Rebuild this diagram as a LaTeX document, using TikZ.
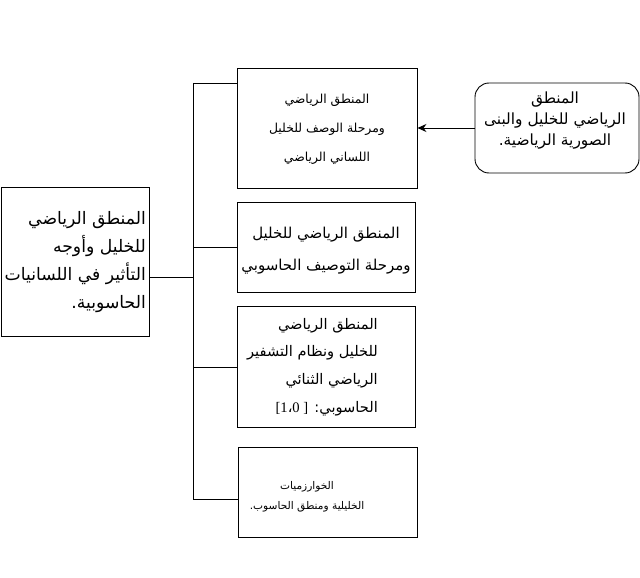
\documentclass[tikz,border=0pt]{standalone}
\usepackage{fontspec}
\newfontfamily\arabicfont[Script=Arabic]{DejaVu Sans}
\newfontfamily\latinserif{Liberation Serif}
\TeXXeTstate=1
\usetikzlibrary{arrows.meta}
\tikzset{
  boxed/.style={draw=black, line width=0.9pt, inner sep=0pt},
  conn/.style={draw=black, line width=0.9pt},
  txt/.style={inner sep=0pt, text=black},
}
\begin{document}
\begin{tikzpicture}[x=1pt,y=-1pt]
\useasboundingbox (0,0) rectangle (640,578);
% boxes
\node[boxed, minimum width=148pt, minimum height=149pt] (L) at (75,261.5) {};
\node[boxed, minimum width=180pt, minimum height=120pt] (A) at (327,128) {};
\node[boxed, minimum width=178pt, minimum height=90pt] (B) at (326,247) {};
\node[boxed, minimum width=178pt, minimum height=121pt] (C) at (326,366.5) {};
\node[boxed, minimum width=179pt, minimum height=90pt] (D) at (327.5,492) {};
\node[boxed, rounded corners=14pt, minimum width=164pt, minimum height=90pt] (R) at (557,128) {};
% texts
\node[txt, align=right, anchor=east, font={\arabicfont\fontsize{17.2}{28}\selectfont}] (Lt) at (146,262.5)
 {\beginR المنطق الرياضي\endR\\\beginR للخليل وأوجه\endR\\\beginR التأثير في اللسانيات\endR\\\beginR الحاسوبية.\endR};
\node[txt, align=center, font={\arabicfont\fontsize{12.4}{29}\selectfont}] (At) at (327,129)
 {\beginR المنطق الرياضي\endR\\\beginR ومرحلة الوصف للخليل\endR\\\beginR اللساني الرياضي\endR};
\node[txt, align=center, font={\arabicfont\fontsize{15}{32}\selectfont}] (Bt) at (326,251)
 {\beginR المنطق الرياضي للخليل\endR\\\beginR ومرحلة التوصيف الحاسوبي\endR};
\node[txt, align=right, anchor=east, font={\arabicfont\fontsize{14.6}{27.7}\selectfont}] (Ct) at (378,367)
 {\beginR المنطق الرياضي\endR\\\beginR للخليل ونظام التشفير\endR\\\beginR الرياضي الثنائي\endR\\\beginR الحاسوبي: \beginL{\latinserif[1}،{\latinserif0 ]}\endL\endR};
\node[txt, align=center, font={\arabicfont\fontsize{10.6}{20}\selectfont}] (Dt) at (307,497)
 {\beginR الخوارزميات\endR\\\beginR الخليلية ومنطق الحاسوب.\endR};
\node[txt, align=center, font={\arabicfont\fontsize{15.4}{21}\selectfont}] (Rt) at (555,121)
 {\beginR المنطق\endR\\\beginR الرياضي للخليل والبنى\endR\\\beginR الصورية الرياضية.\endR};
% connectors
\coordinate (t0) at (193,83);
\coordinate (tL) at (193,277);
\coordinate (tB) at (193,247);
\coordinate (tC) at (193,367);
\coordinate (tD) at (193,499);
\draw[conn] (t0) -- (tD);
\draw[conn] (L.east |- tL) -- (tL);
\draw[conn] (t0) -- (A.west |- t0);
\draw[conn] (tB) -- (B.west |- tB);
\draw[conn] (tC) -- (C.west |- tC);
\draw[conn] (tD) -- (D.west |- tD);
\draw[conn, -{Stealth[length=9pt,width=8pt]}] (R.west) -- (A.east);
\end{tikzpicture}
\end{document}
